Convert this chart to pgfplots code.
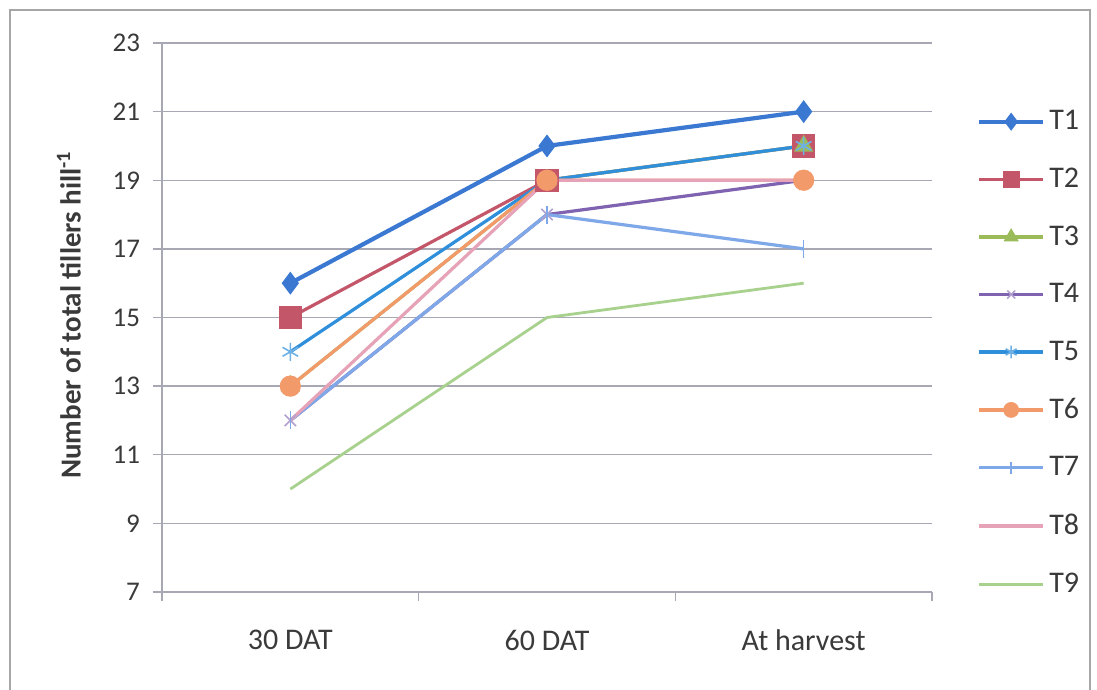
\documentclass[border=0pt]{standalone}
\usepackage{pgfplots}
\pgfplotsset{compat=1.18}
\usepackage{fontspec}
\setmainfont{Carlito}
\usetikzlibrary{plotmarks}

\definecolor{cT1}{HTML}{3A78D2}
\definecolor{cT2}{HTML}{C4566A}
\definecolor{cT3}{HTML}{9BBB59}
\definecolor{cT4}{HTML}{7F62B0}
\definecolor{cT5}{HTML}{2F8FDB}
\definecolor{cT6}{HTML}{F39A6B}
\definecolor{cT7}{HTML}{7FA8E8}
\definecolor{cT8}{HTML}{E6A3B8}
\definecolor{cT9}{HTML}{A9D18E}
\definecolor{gridc}{HTML}{A8A8B4}
\definecolor{txt}{HTML}{3A3A3A}

\begin{document}
\begin{tikzpicture}
\fill[white] (0pt,0pt) rectangle (548.5pt,345pt);
\draw[gray!70, line width=1.2pt] (5pt,-5pt) rectangle (545pt,340pt);
\begin{axis}[
  at={(81pt,49pt)}, anchor=south west,
  scale only axis, width=385pt, height=274.5pt,
  xmin=-0.5, xmax=2.5, ymin=7, ymax=23,
  xtick={0,1,2},
  xticklabels={30 DAT,60 DAT,At harvest},
  minor xtick={-0.5,0.5,1.5,2.5},
  major x tick style={draw=none},
  ytick={7,9,...,23},
  tick align=outside,
  tick pos=left,
  major tick length=4.5pt,
  minor tick length=4.5pt,
  every tick/.style={gridc, line width=0.7pt},
  ymajorgrids,
  grid style={gridc, line width=0.7pt},
  axis line style={gridc, line width=0.8pt},
  axis x line*=bottom, axis y line*=left,
  yticklabel style={font=\fontsize{13.5}{15}\selectfont, text=txt, xshift=-3pt},
  xticklabel style={font=\fontsize{15}{17}\selectfont, text=txt, yshift=-11pt},
  /pgf/number format/assume math mode=true,
  ylabel={\textbf{Number of total tillers hill\textsuperscript{-1}}},
  ylabel style={font=\fontsize{14.5}{16}\selectfont, text=txt, at={(axis description cs:-0.121,0.505)}, anchor=center},
  legend image code/.code={\draw[mark repeat=2,mark phase=2, every mark/.append style={scale=0.7}] plot coordinates {(0pt,0pt) (16pt,0pt) (32pt,0pt)};},
  legend style={draw=none, fill=none, at={(axis description cs:1.058,0.885)}, anchor=north west,
    font=\fontsize{15}{17}\selectfont, text=txt, row sep=13.6pt, inner sep=0pt},
  legend cell align=left,
]
% T1
\addplot[cT1, line width=2.1pt, mark=diamond*, mark size=4pt, mark options={fill=cT1}]
  coordinates {(0,16) (1,20) (2,21)};
% T2
\addplot[cT2, line width=1.6pt, mark=square*, mark size=5pt, mark options={fill=cT2}]
  coordinates {(0,15) (1,19) (2,20)};
% T3
\addplot[cT3, line width=1.6pt, mark=triangle*, mark size=4pt, mark options={fill=cT3}]
  coordinates {(0,13) (1,19) (2,20)};
% T4
\addplot[cT4, line width=1.6pt, mark=x, mark size=4pt, mark options={line width=0.8pt, draw=cT4!60}]
  coordinates {(0,12) (1,18) (2,19)};
% T5
\addplot[cT5, line width=1.6pt, mark=asterisk, mark size=4.5pt, mark options={line width=0.8pt, draw=cT5!70}]
  coordinates {(0,14) (1,19) (2,20)};
% T6
\addplot[cT6, line width=1.6pt, mark=*, mark size=4.5pt, mark options={fill=cT6}]
  coordinates {(0,13) (1,19) (2,19)};
% T7
\addplot[cT7, line width=1.6pt, mark=|, mark size=4.5pt, mark options={line width=0.8pt}]
  coordinates {(0,12) (1,18) (2,17)};
% T8
\addplot[cT8, line width=1.6pt]
  coordinates {(0,12) (1,19) (2,19)};
% T9
\addplot[cT9, line width=1.4pt]
  coordinates {(0,10) (1,15) (2,16)};
\legend{T1,T2,T3,T4,T5,T6,T7,T8,T9}
\end{axis}
\pgfresetboundingbox
\path[use as bounding box] (0pt,0pt) rectangle (548.5pt,345pt);
\end{tikzpicture}
\end{document}
